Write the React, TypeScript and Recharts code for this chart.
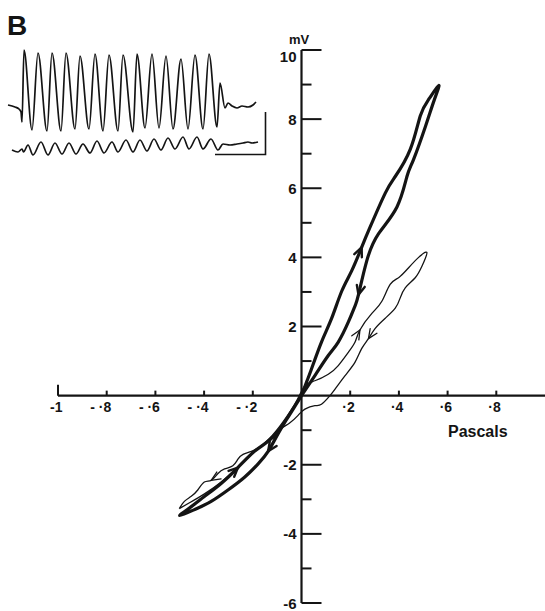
import { ComposedChart, LineChart, Line, Scatter, XAxis, YAxis, ReferenceLine } from "recharts";

// main plot: pressure (Pascals) vs potential (mV)
const xTicks = [-1, -0.8, -0.6, -0.4, -0.2, 0.2, 0.4, 0.6, 0.8];
const xTickLabels = ["-1", "- ·8", "- ·6", "- ·4", "- ·2", "·2", "·4", "·6", "·8"];
const yTicks = [10, 9, 8, 7, 6, 5, 4, 3, 2, 1, -1, -2, -3, -4, -5, -6];
const yTickLabels = ["10", "", "8", "", "6", "", "4", "", "2", "", "", "-2", "", "-4", "", "-6"];

// heavy loop (x = Pa, y = mV)
const thickLoop: [number, number][] = [
  [0, 0], [0.02, 0.38], [0.041, 0.77], [0.082, 1.55], [0.124, 2.24], [0.165, 3.02],
  [0.206, 3.61], [0.247, 4.29], [0.282, 4.88], [0.344, 5.86], [0.385, 6.34], [0.447, 7.13],
  [0.488, 8.1], [0.525, 8.6], [0.564, 8.98], [0.545, 8.55], [0.51, 7.81], [0.46, 6.83],
  [0.433, 6.34], [0.392, 5.46], [0.316, 4.68], [0.268, 3.9], [0.234, 2.92], [0.22, 2.6],
  [0.193, 2.14], [0.151, 1.55], [0.11, 1.16], [0.055, 0.58], [0, 0], [-0.045, -0.5],
  [-0.096, -1.1], [-0.137, -1.61], [-0.179, -1.98], [-0.234, -2.36], [-0.302, -2.73],
  [-0.371, -3.06], [-0.44, -3.3], [-0.5, -3.47], [-0.454, -3.22], [-0.399, -2.92],
  [-0.33, -2.54], [-0.261, -2.08], [-0.193, -1.61], [-0.137, -1.32], [-0.082, -0.9],
  [-0.035, -0.4], [0, 0],
];
const thickArrows = [7, 22, 31, 41];

// light figure-of-eight loop
const thinLoop: [number, number][] = [
  [-0.502, -3.27], [-0.46, -3.1], [-0.4, -2.85], [-0.33, -2.5], [-0.26, -2.05],
  [-0.19, -1.6], [-0.12, -1.15], [-0.06, -0.6], [-0.02, -0.15], [0.014, 0.28],
  [0.055, 0.43], [0.11, 0.62], [0.151, 0.87], [0.193, 1.26], [0.22, 1.55], [0.24, 1.9],
  [0.289, 2.38], [0.33, 2.73], [0.364, 3.22], [0.4, 3.42], [0.44, 3.7], [0.481, 4.0],
  [0.515, 4.14], [0.495, 3.75], [0.467, 3.41], [0.426, 3.12], [0.405, 2.82],
  [0.385, 2.53], [0.344, 2.24], [0.302, 1.94], [0.275, 1.65], [0.247, 1.36], [0.22, 0.97],
  [0.179, 0.58], [0.137, 0.18], [0.117, 0], [0.082, -0.25], [0.055, -0.29],
  [0.014, -0.39], [-0.014, -0.57], [-0.05, -0.8], [-0.082, -0.95], [-0.124, -1.23],
  [-0.165, -1.46], [-0.206, -1.61], [-0.24, -1.7], [-0.261, -1.84], [-0.282, -2.03],
  [-0.316, -2.12], [-0.344, -2.26], [-0.371, -2.45], [-0.399, -2.5], [-0.426, -2.73],
  [-0.454, -2.92], [-0.481, -3.06], [-0.502, -3.27],
];
const thinArrows = [15, 30, 50];

// inset records (t, amplitude)
const topTrace: [number, number][] = [
  [8, 55], [15, 53], [19, 51], [21, 48], [22, 38], [24, 110], [32, 30], [38, 107],
  [47, 29], [52, 107], [61, 29], [66, 107], [75, 31], [80, 104], [89, 31], [95, 106],
  [103, 29], [109, 105], [118, 29], [123, 105], [133, 28], [137, 106], [145, 32],
  [152, 106], [159, 32], [166, 104], [173, 31], [181, 101], [188, 31], [195, 105],
  [203, 31], [209, 106], [217, 33], [220, 77], [225, 52], [228, 57], [232, 54],
  [237, 52], [242, 54], [248, 53], [253, 55], [256, 58],
];
const bottomTrace: [number, number][] = [
  [12, 10], [18, 8], [22, 11], [23.5, 8], [28, 15], [33, 5], [41, 18], [48, 5], [55, 17],
  [62, 6], [69, 17], [76, 6], [83, 16], [90, 7], [97, 19], [104, 7], [112, 18], [118, 8],
  [126, 20], [133, 8], [140, 20], [147, 9], [154, 21], [161, 10], [168, 22], [175, 11],
  [183, 23], [189, 11], [197, 23], [203, 11], [211, 21], [218, 10], [223, 16], [230, 15],
  [237, 16], [243, 17], [248, 18], [252, 17], [258, 18],
];
const scaleBar: [number, number][] = [[215, 5.5], [265.5, 5.5], [265.5, 48]];

const W = 545;
const H = 611;
const MARGIN = { top: 50, right: 0, bottom: 8, left: 58 };
const pxPerX = (W - MARGIN.left - MARGIN.right) / 2;
const pxPerY = (H - MARGIN.top - MARGIN.bottom) / 16;
const FONT = "'Liberation Sans', Arial, Helvetica, sans-serif";
const INK = "#141414";

const toXY = (arr: [number, number][]) => arr.map(([x, y]) => ({ x, y }));
const toTV = (arr: [number, number][]) => arr.map(([t, v]) => ({ t, v }));

const xTickData = xTicks.map((x, i) => ({ x, y: 0, label: xTickLabels[i] }));
const yTickData = yTicks.map((y, i) => ({ x: 0, y, label: yTickLabels[i] }));

function XTick(props: any) {
  const { cx, cy, payload } = props;
  const len = payload.x === -1 ? 11 : 5;
  return (
    <g>
      <line x1={cx} y1={cy} x2={cx} y2={cy - len} stroke={INK} strokeWidth={2} />
      <text x={cx + 4.5} y={cy + 16.5} textAnchor="end" fontFamily={FONT} fontWeight="bold" fontSize={14} fill={INK}>
        {payload.label}
      </text>
    </g>
  );
}

function YTick(props: any) {
  const { cx, cy, payload } = props;
  const major = payload.y % 2 === 0;
  const len = major ? 20 : 10;
  const dy = payload.y === 10 ? 12 : 5.5;
  return (
    <g>
      <line x1={cx} y1={cy} x2={cx + len} y2={cy} stroke={INK} strokeWidth={2} />
      {payload.label && (
        <text x={cx - 5} y={cy + dy} textAnchor="end" fontFamily={FONT} fontWeight="bold" fontSize={15} fill={INK}>
          {payload.label}
        </text>
      )}
    </g>
  );
}

function arrowDot(series: [number, number][], idx: number[], width: number, L: number) {
  return (p: any) => {
    const i = p.index;
    if (!idx.includes(i) || i < 1 || i >= series.length - 1) return <g key={`d-${i}`} />;
    const a = series[i - 1];
    const b = series[i + 1];
    const ang = Math.atan2(-(b[1] - a[1]) * pxPerY, (b[0] - a[0]) * pxPerX);
    const s = 0.42;
    const x1 = p.cx - L * Math.cos(ang - s);
    const y1 = p.cy - L * Math.sin(ang - s);
    const x2 = p.cx - L * Math.cos(ang + s);
    const y2 = p.cy - L * Math.sin(ang + s);
    return (
      <path
        key={`d-${i}`}
        d={`M${x1},${y1}L${p.cx},${p.cy}L${x2},${y2}`}
        stroke={INK}
        strokeWidth={width}
        fill="none"
        strokeLinecap="round"
        strokeLinejoin="round"
      />
    );
  };
}

export default function App() {
  return (
    <div style={{ position: "absolute", left: 0, top: 0, width: W, height: H, background: "#fff" }}>
      <ComposedChart width={W} height={H} margin={MARGIN}>
        <XAxis type="number" dataKey="x" domain={[-1, 1]} hide />
        <YAxis type="number" dataKey="y" domain={[-6, 10]} hide />
        <ReferenceLine y={0} stroke={INK} strokeWidth={2.2} />
        <ReferenceLine x={0} stroke={INK} strokeWidth={2.2} />
        <Line
          data={toXY(thinLoop)}
          dataKey="y"
          type="natural"
          stroke={INK}
          strokeWidth={1.3}
          dot={arrowDot(thinLoop, thinArrows, 1.3, 10)}
          activeDot={false}
          isAnimationActive={false}
        />
        <Line
          data={toXY(thickLoop)}
          dataKey="y"
          type="natural"
          stroke={INK}
          strokeWidth={3.2}
          strokeLinejoin="round"
          dot={arrowDot(thickLoop, thickArrows, 2.4, 10)}
          activeDot={false}
          isAnimationActive={false}
        />
        <Scatter data={xTickData} shape={XTick} isAnimationActive={false} />
        <Scatter data={yTickData} shape={YTick} isAnimationActive={false} />
      </ComposedChart>

      <div style={{ position: "absolute", left: 0, top: 40 }}>
        <LineChart width={275} height={120} margin={{ top: 0, right: 0, bottom: 0, left: 0 }}>
          <XAxis type="number" dataKey="t" domain={[0, 275]} hide />
          <YAxis type="number" dataKey="v" domain={[0, 120]} hide />
          <Line data={toTV(topTrace)} dataKey="v" type="monotone" stroke={INK} strokeWidth={1.7} dot={false} activeDot={false} isAnimationActive={false} />
          <Line data={toTV(bottomTrace)} dataKey="v" type="monotone" stroke={INK} strokeWidth={1.7} dot={false} activeDot={false} isAnimationActive={false} />
          <Line data={toTV(scaleBar)} dataKey="v" type="linear" stroke={INK} strokeWidth={1.6} dot={false} activeDot={false} isAnimationActive={false} />
        </LineChart>
      </div>

      <svg width={W} height={H} style={{ position: "absolute", left: 0, top: 0, pointerEvents: "none" }}>
        <text x={7} y={35} fontFamily={FONT} fontWeight="bold" fontSize={28} fill={INK}>B</text>
        <text x={289} y={44} fontFamily={FONT} fontWeight="bold" fontSize={13} fill={INK}>mV</text>
        <text x={448} y={437} fontFamily={FONT} fontWeight="bold" fontSize={16} fill={INK}>Pascals</text>
      </svg>
    </div>
  );
}
